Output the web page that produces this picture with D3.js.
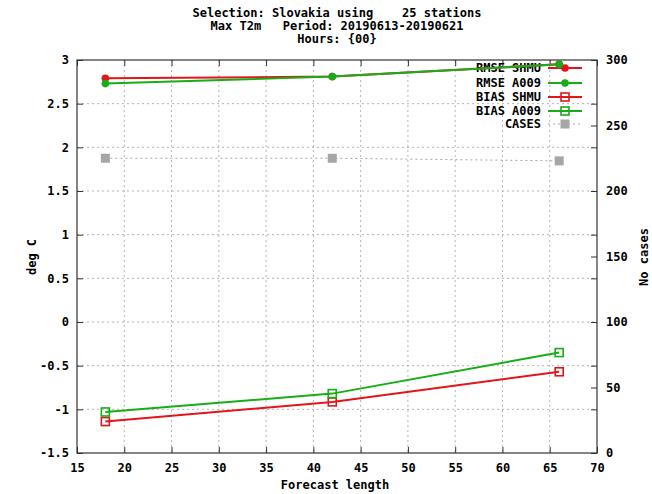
<!DOCTYPE html>
<html>
<head>
<meta charset="utf-8">
<script src="https://cdn.jsdelivr.net/npm/d3@7"></script>
<style>
  html, body { margin: 0; padding: 0; background: #fff; }
  svg text { font-family: "DejaVu Sans Mono", "Liberation Mono", monospace; font-weight: bold; font-size: 12px; fill: #000; }
</style>
</head>
<body>
<svg id="chart" width="652" height="494"></svg>
<script>
// ---- data ----
const forecastLength = [18, 42, 66];
const rmseShmu = [2.79, 2.81, 2.95];
const rmseA009 = [2.73, 2.81, 2.95];
const biasShmu = [-1.14, -0.915, -0.57];
const biasA009 = [-1.03, -0.82, -0.35];
const cases = [225, 225, 223];
const xTicks = [15, 20, 25, 30, 35, 40, 45, 50, 55, 60, 65, 70];
const yTicks = [-1.5, -1, -0.5, 0, 0.5, 1, 1.5, 2, 2.5, 3];
const y2Ticks = [0, 50, 100, 150, 200, 250, 300];
const titleLines = ["Selection: Slovakia using    25 stations", "Max T2m   Period: 20190613-20190621", "Hours: {00}"];
const seriesNames = ["RMSE SHMU", "RMSE A009", "BIAS SHMU", "BIAS A009", "CASES"];

// ---- layout ----
const L = 77, R = 597, T = 60, B = 453;
const RED = "#e3151b", GREEN = "#17ad17", GRAY = "#a6a6a6", AXIS = "#333";

const svg = d3.select("#chart");
const x = d3.scaleLinear().domain([15, 70]).range([L, R]);
const y = d3.scaleLinear().domain([-1.5, 3]).range([B, T]);
const y2 = d3.scaleLinear().domain([0, 300]).range([B, T]);

// grid
const grid = svg.append("g");
grid.selectAll("line.gx").data(xTicks.slice(1, -1)).join("line")
  .attr("x1", d => x(d)).attr("x2", d => x(d)).attr("y1", T).attr("y2", B)
  .attr("stroke", "#b4b4b4").attr("stroke-width", 1).attr("stroke-dasharray", "2,3");
grid.selectAll("line.gy").data(yTicks.slice(1, -1)).join("line")
  .attr("x1", L).attr("x2", R).attr("y1", d => y(d)).attr("y2", d => y(d))
  .attr("stroke", "#b4b4b4").attr("stroke-width", 1).attr("stroke-dasharray", "2,3");

// axes
function style(g) {
  g.select(".domain").remove();
  g.selectAll(".tick line").attr("stroke", AXIS).attr("stroke-width", 1);
  g.selectAll("text").style("font-family", "DejaVu Sans Mono, monospace").style("font-weight", "bold").style("font-size", "12px").attr("fill", "#000");
}
svg.append("g").attr("transform", `translate(0,${B})`)
  .call(d3.axisBottom(x).tickValues(xTicks).tickSizeInner(-6).tickSizeOuter(0).tickPadding(10).tickFormat(d => String(d)))
  .call(style);
svg.append("g").attr("transform", `translate(0,${T})`)
  .call(d3.axisTop(x).tickValues(xTicks).tickSizeInner(-6).tickSizeOuter(0).tickFormat(""))
  .call(style);
svg.append("g").attr("transform", `translate(${L},0)`)
  .call(d3.axisLeft(y).tickValues(yTicks).tickSizeInner(-6).tickSizeOuter(0).tickPadding(8).tickFormat(d => String(d)))
  .call(style);
svg.append("g").attr("transform", `translate(${R},0)`)
  .call(d3.axisRight(y).tickValues(yTicks).tickSizeInner(-6).tickSizeOuter(0).tickFormat(""))
  .call(style);
svg.append("g").attr("transform", `translate(${R},0)`)
  .call(d3.axisRight(y2).tickValues(y2Ticks).tickSizeInner(-6).tickSizeOuter(0).tickPadding(9).tickFormat(d => String(d)))
  .call(style);

// frame
svg.append("rect").attr("x", L).attr("y", T).attr("width", R - L).attr("height", B - T)
  .attr("fill", "none").attr("stroke", AXIS).attr("stroke-width", 1.2);

// titles
svg.append("g").selectAll("text").data(titleLines).join("text")
  .attr("x", 337).attr("y", (d, i) => 17 + i * 13).attr("text-anchor", "middle")
  .style("white-space", "pre").attr("xml:space", "preserve").text(d => d);
svg.append("text").attr("x", 335).attr("y", 489).attr("text-anchor", "middle").text("Forecast length");
svg.append("text").attr("transform", "translate(36,257) rotate(-90)").attr("text-anchor", "middle").text("deg C");
svg.append("text").attr("transform", "translate(648,257) rotate(-90)").attr("text-anchor", "middle").text("No cases");

// series
const series = [
  { name: seriesNames[0], vals: rmseShmu, color: RED, mark: "circle", sc: y },
  { name: seriesNames[1], vals: rmseA009, color: GREEN, mark: "circle", sc: y },
  { name: seriesNames[2], vals: biasShmu, color: RED, mark: "square", sc: y },
  { name: seriesNames[3], vals: biasA009, color: GREEN, mark: "square", sc: y },
  { name: seriesNames[4], vals: cases, color: GRAY, mark: "filledsq", sc: y2 }
];

function marker(g, mark, color, cx, cy) {
  if (mark === "circle") {
    g.append("circle").attr("cx", cx).attr("cy", cy).attr("r", 3.8).attr("fill", color);
  } else if (mark === "square") {
    g.append("rect").attr("x", cx - 4).attr("y", cy - 4).attr("width", 8).attr("height", 8)
      .attr("fill", "none").attr("stroke", color).attr("stroke-width", 1.6);
  } else {
    g.append("rect").attr("x", cx - 4.5).attr("y", cy - 4.5).attr("width", 9).attr("height", 9).attr("fill", color);
  }
}

const legY = [68, 83, 97, 111, 124];
series.forEach((s, i) => {
  const g = svg.append("g");
  const pts = forecastLength.map((f, j) => [x(f), s.sc(s.vals[j])]);
  const line = d3.line();
  const dotted = s.mark === "filledsq";
  // legend
  g.append("text").attr("x", 541).attr("y", legY[i]).attr("dy", "0.35em").attr("text-anchor", "end").text(s.name);
  g.append("line").attr("x1", 548).attr("x2", 582).attr("y1", legY[i]).attr("y2", legY[i])
    .attr("stroke", s.color).attr("stroke-width", dotted ? 1 : 2)
    .attr("stroke-dasharray", dotted ? "2,3" : null);
  marker(g, s.mark, s.color, 565, legY[i]);
  // plot
  g.append("path").attr("d", line(pts)).attr("fill", "none")
    .attr("stroke", s.color).attr("stroke-width", dotted ? 1 : 2)
    .attr("stroke-dasharray", dotted ? "2,3" : null);
  pts.forEach(p => marker(g, s.mark, s.color, p[0], p[1]));
});
</script>
</body>
</html>
